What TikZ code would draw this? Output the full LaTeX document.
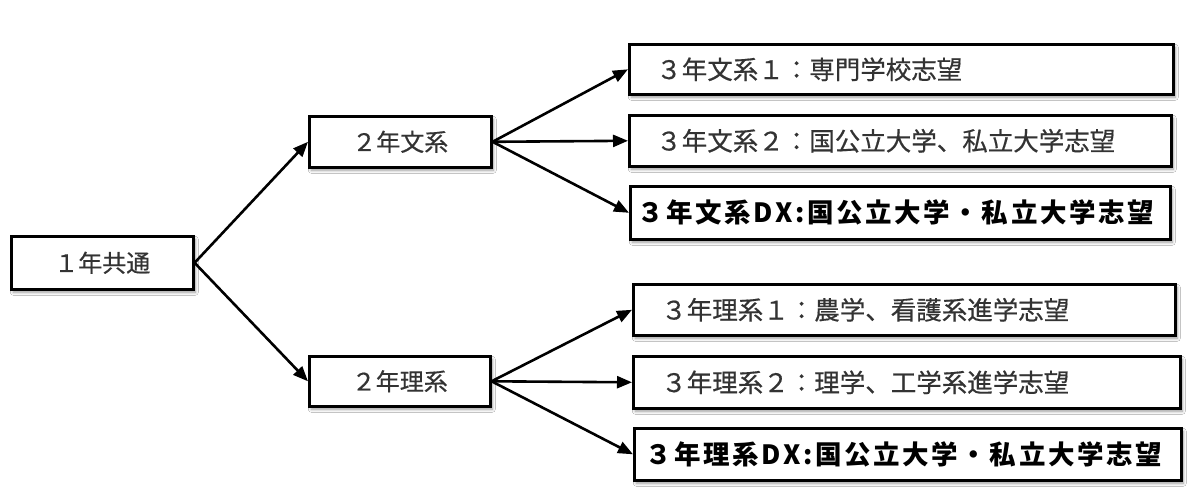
\documentclass[tikz,border=0pt]{standalone}
\usepackage{fontspec}
\newfontfamily\jp{Noto Sans CJK JP}
\newfontfamily\jpm[FakeBold=0.5]{Noto Sans CJK JP}
\usetikzlibrary{arrows.meta,shadows.blur}
\tikzset{
  box/.style={draw=black, line width=2.6pt, fill=white, rectangle, inner ysep=0pt,
    blur shadow={shadow xshift=2pt, shadow yshift=-3pt, shadow blur radius=3pt, shadow opacity=40}},
  midtxt/.style={font=\jpm\fontsize{24}{28}\selectfont, text=black!80},
  ltxt/.style={font=\jpm\fontsize{25.5}{30}\selectfont, text=black!80},
  dxtxt/.style={font=\jp\bfseries\fontsize{26.5}{30}\selectfont\addfontfeature{LetterSpace=10}, text=black},
  arr/.style={line width=2.6pt, -{Triangle[length=15pt,width=12pt]}}
}
\begin{document}
\begin{tikzpicture}[x=1pt,y=-1pt]
\useasboundingbox[fill=white] (0,0) rectangle (1192,492);
% first-year box
\node[box, midtxt, anchor=north west, minimum width=182pt, minimum height=53pt] (a) at (10,235) {１年共通};
% second-year boxes
\node[box, midtxt, anchor=north west, minimum width=182pt, minimum height=51pt] (k) at (308,115) {２年文系};
\node[box, midtxt, anchor=north west, minimum width=181pt, minimum height=50pt] (r) at (308,355) {２年理系};
% third-year boxes (bunkei)
\node[box, ltxt, anchor=north west, minimum height=50pt, inner xsep=27pt] (b1) at (628,43)
  {\makebox[490pt][l]{３年文系１：専門学校志望}};
\node[box, ltxt, anchor=north west, minimum height=51pt, inner xsep=27pt] (b2) at (628,114)
  {\makebox[488pt][l]{３年文系２：国公立大学、私立大学志望}};
\node[box, dxtxt, anchor=north west, minimum height=53pt, inner xsep=7pt] (b3) at (629,185)
  {\makebox[526pt][l]{３年文系DX:国公立大学・私立大学志望}};
% third-year boxes (rikei)
\node[box, ltxt, anchor=north west, minimum height=51pt, inner xsep=28pt] (b4) at (632,283)
  {\makebox[486pt][l]{３年理系１：農学、看護系進学志望}};
\node[box, ltxt, anchor=north west, minimum height=52pt, inner xsep=28pt] (b5) at (632,355)
  {\makebox[491pt][l]{３年理系２：理学、工学系進学志望}};
\node[box, dxtxt, anchor=north west, minimum height=52pt, inner xsep=11pt] (b6) at (633,427)
  {\makebox[525pt][l]{３年理系DX:国公立大学・私立大学志望}};
% connectors
\draw[arr] (a.east) -- (k.west);
\draw[arr] (a.east) -- (r.west);
\draw[arr] (k.east) -- (b1.west);
\draw[arr] (k.east) -- (b2.west);
\draw[arr] (k.east) -- (b3.west);
\draw[arr] (r.east) -- (b4.west);
\draw[arr] (r.east) -- (b5.west);
\draw[arr] (r.east) -- (b6.west);
\end{tikzpicture}
\end{document}
